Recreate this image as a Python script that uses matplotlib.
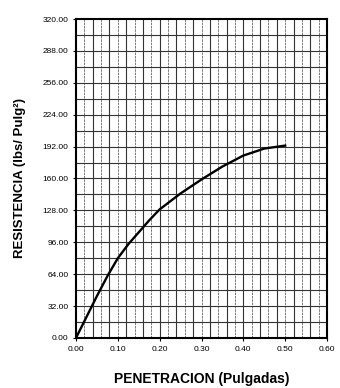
import matplotlib
matplotlib.use("Agg")
import matplotlib.pyplot as plt
import numpy as np

# lectura de la curva (penetracion en pulgadas, resistencia en lbs/pulg2)
penetracion = [0.0, 0.025, 0.05, 0.075, 0.10, 0.125, 0.15, 0.175, 0.20, 0.25,
               0.30, 0.35, 0.40, 0.45, 0.50]
resistencia = [0.0, 21.0, 42.0, 62.0, 80.0, 94.0, 106.0, 118.0, 129.0, 145.0,
               159.0, 172.0, 183.0, 190.0, 193.0]

x_ticks = [0.0, 0.1, 0.2, 0.3, 0.4, 0.5, 0.6]
y_ticks = [0, 32, 64, 96, 128, 160, 192, 224, 256, 288, 320]

plt.rcParams['font.family'] = ['Liberation Sans', 'DejaVu Sans']

fig = plt.figure(figsize=(3.4, 3.88), dpi=100)
ax = fig.add_axes([0.2235, 0.129, 0.7383, 0.822])

# cuadricula tipo papel milimetrado
for i, xv in enumerate(np.arange(0.02, 0.6, 0.02)):
    if i % 2 == 0:
        ax.axvline(xv, color='#666666', lw=0.6, ls=(0, (3, 1)), zorder=1)
    else:
        ax.axvline(xv, color='#333333', lw=0.8, zorder=1)
for yv in np.arange(16, 320, 16):
    ax.axhline(yv, color='#333333', lw=0.8, zorder=1)

ax.plot(penetracion, resistencia, color='black', lw=1.7, zorder=3)

ax.set_xlim(0, 0.6)
ax.set_ylim(0, 320)
ax.set_xticks(x_ticks)
ax.set_xticklabels(["%.2f" % v for v in x_ticks])
ax.set_yticks(y_ticks)
ax.set_yticklabels(["%.2f" % v for v in y_ticks])
ax.tick_params(labelsize=6, length=2.5, width=0.8, pad=3)

for s in ax.spines.values():
    s.set_linewidth(1.5)

ax.set_xlabel("PENETRACION (Pulgadas)", fontsize=10, fontweight='bold', labelpad=14)
ax.set_ylabel("RESISTENCIA (lbs/ Pulg²)", fontsize=9.5, fontweight='bold', labelpad=12)

fig.savefig("out.png", dpi=100)
